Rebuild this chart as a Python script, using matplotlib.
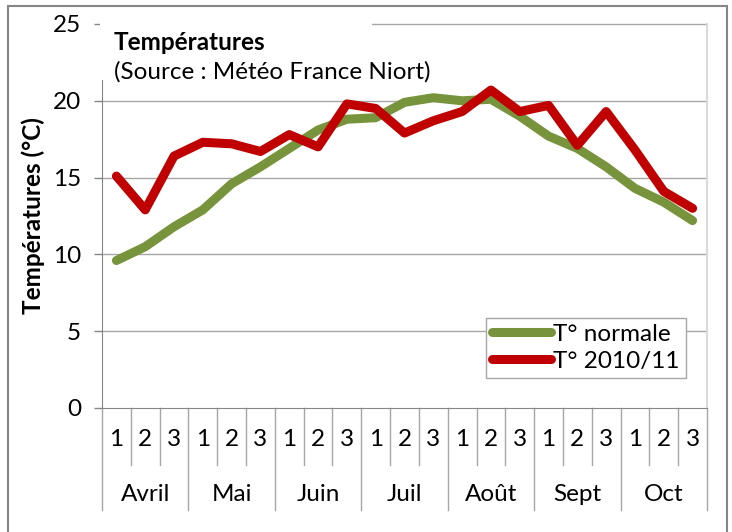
import matplotlib
matplotlib.use("Agg")
import matplotlib.pyplot as plt
from matplotlib.patches import Rectangle

plt.rcParams['font.family'] = ['Lato', 'DejaVu Sans']

mois = ["Avril", "Mai", "Juin", "Juil", "Août", "Sept", "Oct"]
decades = ["1", "2", "3"]

t_normale = [9.6, 10.5, 11.8, 12.9, 14.6, 15.7, 16.9, 18.1, 18.8, 18.9, 19.9,
             20.2, 20.0, 20.1, 19.0, 17.7, 16.9, 15.7, 14.3, 13.4, 12.2]
t_2010 = [15.1, 12.9, 16.4, 17.3, 17.2, 16.7, 17.8, 17.0, 19.8, 19.5, 17.9,
          18.7, 19.3, 20.7, 19.3, 19.7, 17.1, 19.3, 16.8, 14.1, 13.0]

W, H = 732, 532
FS = 17.5
fig = plt.figure(figsize=(W / 100, H / 100), dpi=100)


def fx(px):
    return px / W


def fy(py):
    return 1 - py / H


left, right, top, bottom = 102, 707, 24, 408
ax = fig.add_axes([fx(left), fy(bottom), fx(right - left), fy(top) - fy(bottom)])

x = list(range(len(t_normale)))
ax.plot(x, t_normale, color="#77933C", lw=6.5, solid_capstyle="round",
        solid_joinstyle="round", label="T° normale", zorder=3)
ax.plot(x, t_2010, color="#C00000", lw=6.5, solid_capstyle="round",
        solid_joinstyle="round", label="T° 2010/11", zorder=4)

ax.set_xlim(-0.5, len(x) - 0.5)
ax.set_ylim(0, 25)
ax.set_yticks([0, 5, 10, 15, 20, 25])
ax.tick_params(axis="y", labelsize=FS, length=6, width=1, color="#868686", pad=9)
ax.set_xticks([])
for v in [5, 10, 15, 20, 25]:
    ax.axhline(v, color="#A6A6A6", lw=1, zorder=1, clip_on=False)

ax.spines["top"].set_visible(False)
ax.spines["left"].set_color("#868686")
ax.spines["bottom"].set_color("#868686")
ax.spines["right"].set_color("#D9D9D9")
ax.spines["right"].set_linewidth(1.5)

ax.set_ylabel("Températures (°C)", fontsize=FS, fontweight="bold", labelpad=6)

# axe des catégories à deux niveaux
trans = ax.get_xaxis_transform()
for i in range(len(x) + 1):
    y_end = -0.266 if i % 3 == 0 else -0.148
    ax.plot([i - 0.5, i - 0.5], [0, y_end], transform=trans, color="#A6A6A6",
            lw=1, clip_on=False)
for i in x:
    ax.text(i, -0.083, decades[i % 3], transform=trans, ha="center",
            va="center", fontsize=FS)
for m, nom in enumerate(mois):
    ax.text(3 * m + 1, -0.224, nom, transform=trans, ha="center",
            va="center", fontsize=FS)

leg = ax.legend(loc="lower left", bbox_to_anchor=(0.635, 0.078), borderaxespad=0,
                fontsize=FS, handlelength=2.4, handletextpad=0.1, fancybox=False,
                edgecolor="#A6A6A6", framealpha=1, borderpad=0.25, labelspacing=0.25)
leg.get_frame().set_linewidth(1)

# cadre du titre et cadre extérieur
fig.patches.append(Rectangle((fx(100), fy(80)), fx(272), fy(18) - fy(80),
                             transform=fig.transFigure, facecolor="white",
                             edgecolor="none", zorder=5))
fig.text(fx(114), fy(43), "Températures", fontsize=FS, fontweight="bold",
         va="center", zorder=6)
fig.text(fx(114), fy(72), "(Source : Météo France Niort)", fontsize=FS,
         va="center", zorder=6)
fig.patches.append(Rectangle((fx(8), fy(540)), fx(719), fy(6) - fy(540),
                             transform=fig.transFigure, facecolor="none",
                             edgecolor="#868686", lw=1.5, zorder=7))

fig.savefig("out.png", dpi=100)
